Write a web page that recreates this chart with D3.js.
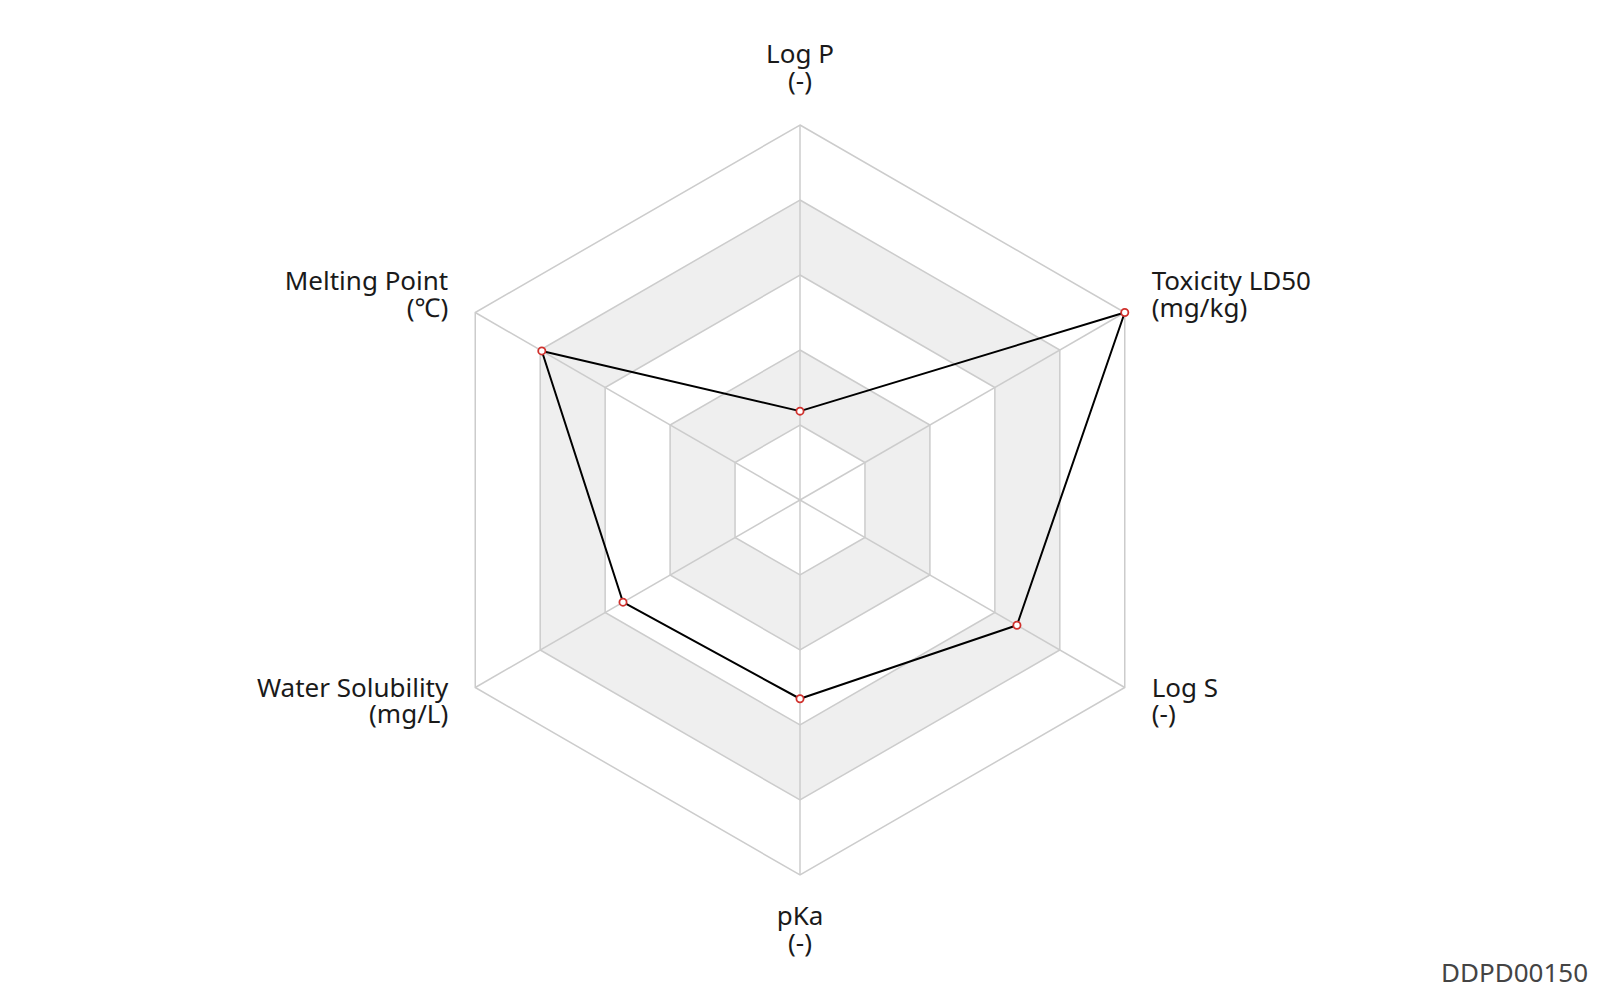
<!DOCTYPE html>
<html>
<head>
<meta charset="utf-8">
<script src="https://cdn.jsdelivr.net/npm/d3@7/dist/d3.min.js"></script>
<style>
  html, body { margin: 0; padding: 0; background: #fff; }
  svg { display: block; }
  text { font-family: "Noto Sans", "Open Sans", sans-serif; }
</style>
</head>
<body>
<svg id="chart" width="1600" height="1000"></svg>
<script>
// ---- data ----
const indicatorNames = ["Log P", "Toxicity LD50", "Log S", "pKa", "Water Solubility", "Melting Point"];
const indicatorUnits = ["(-)", "(mg/kg)", "(-)", "(-)", "(mg/L)", "(℃)"];
const seriesValues = [0.237, 1.0, 0.668, 0.53, 0.545, 0.795];
const indicatorMax = 1;
const splitNumber = 5;
const watermark = "DDPD00150";

// ---- layout ----
const W = 1600, H = 1000;
const cx = W / 2, cy = H / 2;
const radius = Math.min(W, H) / 2 * 0.75;
const nameGap = 15;

const svg = d3.select("#chart");
const g = svg.append("g").attr("transform", `translate(${cx},${cy})`);

const r = d3.scaleLinear().domain([0, indicatorMax]).range([0, radius]);
const angle = d3.scaleLinear().domain([0, indicatorNames.length]).range([0, 2 * Math.PI]);

const levels = d3.range(1, splitNumber + 1).map(k => k / splitNumber * indicatorMax);

const ringLine = d3.lineRadial()
  .angle((d, i) => angle(i))
  .radius(d => r(d))
  .curve(d3.curveLinearClosed);

// split areas (alternating white / light gray), drawn as bands
const areaColors = ["#ffffff", "#efefef"];
levels.forEach((lv, k) => {
  const inner = k === 0 ? 0 : levels[k - 1];
  const outerPts = indicatorNames.map((_, i) => d3.pointRadial(angle(i), r(lv)));
  const innerPts = indicatorNames.map((_, i) => d3.pointRadial(angle(i), r(inner)));
  const path = "M" + outerPts.map(p => p.join(",")).join("L") + "Z" +
               "M" + innerPts.slice().reverse().map(p => p.join(",")).join("L") + "Z";
  g.append("path")
    .attr("d", path)
    .attr("fill", areaColors[k % 2])
    .attr("fill-rule", "evenodd");
});

// split lines
levels.forEach(lv => {
  g.append("path")
    .attr("d", ringLine(indicatorNames.map(() => lv)))
    .attr("fill", "none")
    .attr("stroke", "#cccccc")
    .attr("stroke-width", 1.5);
});

// axis lines
indicatorNames.forEach((_, i) => {
  const p = d3.pointRadial(angle(i), r(indicatorMax));
  g.append("line")
    .attr("x1", 0).attr("y1", 0)
    .attr("x2", p[0]).attr("y2", p[1])
    .attr("stroke", "#cccccc")
    .attr("stroke-width", 1.5);
});

// series line
g.append("path")
  .attr("d", ringLine(seriesValues))
  .attr("fill", "none")
  .attr("stroke", "#000000")
  .attr("stroke-width", 2)
  .attr("stroke-linejoin", "round");

// series points
g.selectAll("circle.pt")
  .data(seriesValues)
  .join("circle")
  .attr("class", "pt")
  .attr("cx", (d, i) => d3.pointRadial(angle(i), r(d))[0])
  .attr("cy", (d, i) => d3.pointRadial(angle(i), r(d))[1])
  .attr("r", 3.6)
  .attr("fill", "#ffffff")
  .attr("stroke", "#d0302c")
  .attr("stroke-width", 1.8);

// axis names
const fontSize = 26;
const lineGap = 26.5;
indicatorNames.forEach((name, i) => {
  const a = angle(i);
  const [px, py] = d3.pointRadial(a, r(indicatorMax) + nameGap);
  const s = Math.sin(a), c = Math.cos(a);
  let anchor, x = px, firstDy;
  if (Math.abs(s) < 0.01) {
    anchor = "middle";
    firstDy = c > 0 ? -46.7 : 35.3;
  } else {
    anchor = s > 0 ? "start" : "end";
    x = px + (s > 0 ? 14 : -14);
    firstDy = c > 0 ? -15 : 1.7;
  }
  const t = g.append("text")
    .attr("text-anchor", anchor)
    .attr("font-size", fontSize)
    .attr("fill", "#1a1a1a");
  t.append("tspan").attr("x", x).attr("y", py + firstDy).text(name);
  t.append("tspan").attr("x", x).attr("y", py + firstDy + lineGap).text(indicatorUnits[i]);
});

// watermark
svg.append("text")
  .attr("x", W - 12)
  .attr("y", H - 18)
  .attr("text-anchor", "end")
  .attr("font-size", 26)
  .attr("fill", "#444444")
  .text(watermark);
</script>
</body>
</html>
